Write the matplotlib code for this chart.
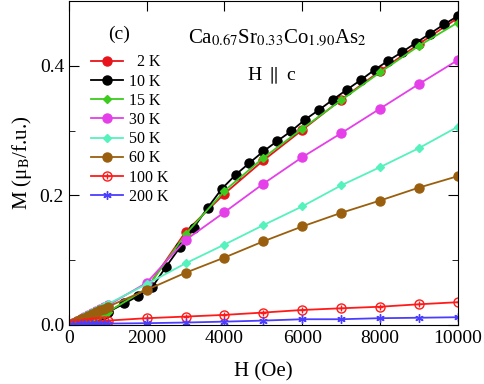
import matplotlib
matplotlib.use("Agg")
import matplotlib.pyplot as plt
from matplotlib.ticker import MultipleLocator

plt.rcParams['font.family'] = ['Liberation Serif', 'DejaVu Serif']
plt.rcParams['mathtext.fontset'] = 'stix'

# field values (Oe)
H_low = [0, 100, 200, 300, 400, 500, 600, 700, 800, 900, 1000]
H_step = [2000, 3000, 4000, 5000, 6000, 7000, 8000, 9000, 10000]
H_10K = H_low + [1430, 1790, 2140, 2500, 2860, 3210, 3570, 3930, 4290, 4640,
                 5000, 5360, 5710, 6070, 6430, 6790, 7140, 7500, 7860, 8210,
                 8570, 8930, 9290, 9640, 10000]

# magnetization (muB/f.u.)
M_2K = [0, 0.0015, 0.0031, 0.0048, 0.0066, 0.0085, 0.0105, 0.0126, 0.0148, 0.0171, 0.0195,
        0.056, 0.1436, 0.2026, 0.254, 0.301, 0.348, 0.392, 0.434, 0.474]
M_10K = [0, 0.0015, 0.0032, 0.005, 0.0068, 0.0087, 0.0107, 0.0128, 0.015, 0.0173, 0.0197,
         0.033, 0.045, 0.058, 0.09, 0.12, 0.15, 0.181, 0.21, 0.232, 0.25,
         0.268, 0.284, 0.299, 0.317, 0.332, 0.348, 0.363, 0.378, 0.394, 0.408,
         0.4215, 0.436, 0.450, 0.464, 0.477]
M_15K = [0, 0.0016, 0.0033, 0.005, 0.0068, 0.0087, 0.0107, 0.0128, 0.015, 0.0173, 0.0197,
         0.056, 0.140, 0.207, 0.258, 0.303, 0.347, 0.390, 0.431, 0.467]
M_30K = [0, 0.003, 0.006, 0.009, 0.012, 0.015, 0.018, 0.021, 0.024, 0.027, 0.030,
         0.065, 0.131, 0.174, 0.218, 0.259, 0.296, 0.334, 0.372, 0.409]
M_50K = [0, 0.0033, 0.0066, 0.0098, 0.013, 0.0162, 0.0194, 0.0226, 0.0257, 0.0288, 0.032,
         0.063, 0.095, 0.124, 0.154, 0.183, 0.2154, 0.2436, 0.273, 0.306]
M_60K = [0, 0.0028, 0.0056, 0.0084, 0.0112, 0.014, 0.0168, 0.0196, 0.0224, 0.0252, 0.028,
         0.054, 0.0805, 0.104, 0.129, 0.152, 0.173, 0.192, 0.212, 0.2297]
M_100K = [0, 0.0006, 0.0013, 0.002, 0.0026, 0.0033, 0.004, 0.0046, 0.0053, 0.006, 0.0066,
          0.0103, 0.0128, 0.0154, 0.019, 0.023, 0.0256, 0.028, 0.0318, 0.035]
M_200K = [0, 0.0002, 0.0004, 0.0006, 0.0008, 0.001, 0.0012, 0.0014, 0.0016, 0.0018, 0.002,
          0.0026, 0.0036, 0.005, 0.0066, 0.0087, 0.0087, 0.0103, 0.011, 0.0118]

fig = plt.figure(figsize=(4.85, 3.84), dpi=100)
ax = fig.add_axes([0.142, 0.154, 0.802, 0.843])

H = H_low + H_step
lw = 1.3
h2, = ax.plot(H, M_2K, '-o', color='#e8141b', ms=6.5, lw=lw)
h10, = ax.plot(H_10K, M_10K, '-o', color='black', ms=6.5, lw=lw)
h15, = ax.plot(H, M_15K, '-D', color='#3ccc1e', ms=4.5, lw=lw)
h30, = ax.plot(H, M_30K, '-o', color='#e43fe8', ms=6.5, lw=lw)
h50, = ax.plot(H, M_50K, '-D', color='#55f2bd', ms=4.5, lw=lw)
h60, = ax.plot(H, M_60K, '-o', color='#9a5f0e', ms=6.5, lw=lw)
h100, = ax.plot(H, M_100K, '-o', color='#ff1a1a', ms=6.5, lw=lw, mfc='none', mew=1.0)
h100p, = ax.plot(H, M_100K, '+', color='#ff1a1a', ms=5, mew=1.0)
h200, = ax.plot(H, M_200K, '-', marker=(6, 2, 0), color='#4b3dff', ms=6, lw=lw, mew=1.0)

ax.set_xlim(0, 10000)
ax.set_ylim(0, 0.5)
ax.xaxis.set_major_locator(MultipleLocator(2000))
ax.yaxis.set_major_locator(MultipleLocator(0.2))
ax.yaxis.set_minor_locator(MultipleLocator(0.1))
ax.yaxis.set_major_formatter(matplotlib.ticker.FormatStrFormatter('%.1f'))
ax.tick_params(which='both', direction='in', top=True, right=True, labelsize=14)
ax.tick_params(which='major', length=7)
ax.tick_params(which='minor', length=4)

ax.set_xlabel('H (Oe)', fontsize=15, labelpad=11)
ax.set_ylabel('M (μ$_\\mathrm{B}$/f.u.)', fontsize=15)

ax.legend([h2, h10, h15, h30, h50, h60, (h100, h100p), h200],
          ['  2 K', '10 K', '15 K', '30 K', '50 K', '60 K', '100 K', '200 K'],
          loc='upper left', bbox_to_anchor=(0.02, 0.88), frameon=False,
          fontsize=11.5, handlelength=2.0, labelspacing=0.2, handletextpad=0.4)

ax.text(0.10, 0.898, '(c)', transform=ax.transAxes, fontsize=14, va='center')
ax.text(0.306, 0.886, r'Ca$_{0.67}$Sr$_{0.33}$Co$_{1.90}$As$_2$', transform=ax.transAxes,
        fontsize=15, va='center')
ax.text(0.458, 0.77, r'H $\parallel$ c', transform=ax.transAxes, fontsize=14, va='center')

fig.savefig('out.png', dpi=100)
